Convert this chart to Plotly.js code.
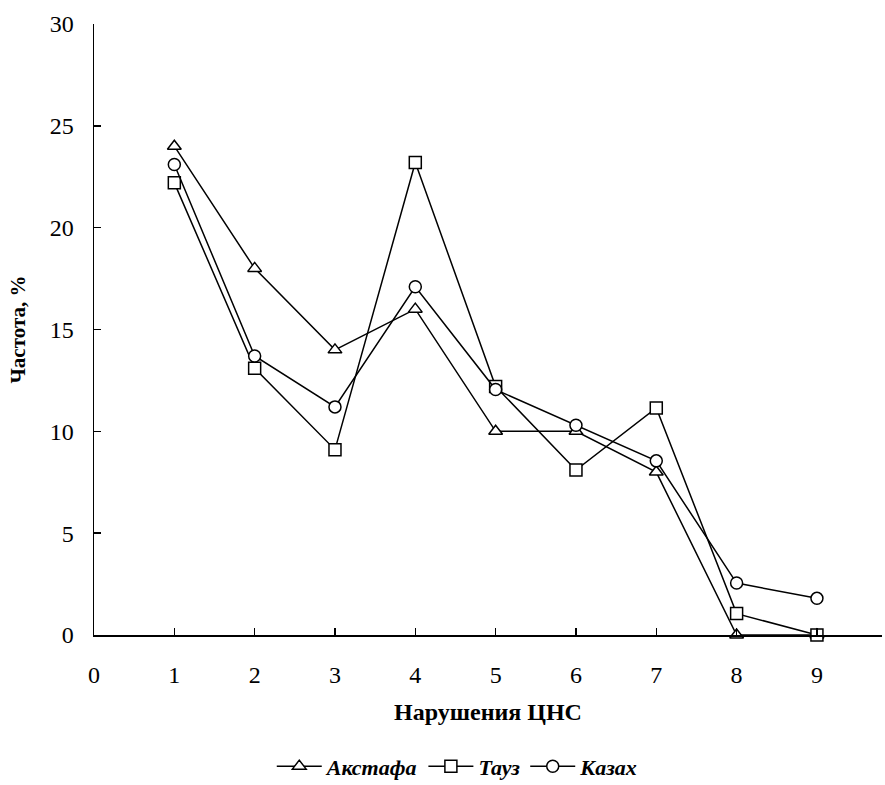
<!DOCTYPE html>
<html>
<head>
<meta charset="utf-8">
<script src="https://cdn.plot.ly/plotly-3.0.1.min.js"></script>
<style>html,body{margin:0;padding:0;background:#fff;}#chart{width:885px;height:785px;}</style>
</head>
<body>
<div id="chart"></div>
<script>
const categories = [1, 2, 3, 4, 5, 6, 7, 8, 9];
const seriesNames = ['Акстафа', 'Тауз', 'Казах'];
const aqstafa = [24, 18, 14, 16, 10, 10, 8, 0, 0];
const tauz = [22.2, 13.1, 9.1, 23.2, 12.2, 8.1, 11.15, 1.05, 0];
const qazax = [23.1, 13.7, 11.2, 17.1, 12.05, 10.3, 8.55, 2.55, 1.8];
const xTicks = [0, 1, 2, 3, 4, 5, 6, 7, 8, 9];
const yTicks = [0, 5, 10, 15, 20, 25, 30];
const xTitle = 'Нарушения ЦНС';
const yTitle = 'Частота, %';

const symbols = ['triangle-up', 'square', 'circle'];
const values = [aqstafa, tauz, qazax];
const traces = values.map((v, i) => ({
  x: categories, y: v, name: seriesNames[i], type: 'scatter', mode: 'lines+markers',
  cliponaxis: false,
  line: {color: '#000', width: 1.5},
  marker: {symbol: symbols[i], size: 12, color: '#fff', line: {color: '#000', width: 1.5}}
}));

const serif = 'Liberation Serif';
const layout = {
  width: 885, height: 785,
  margin: {l: 94, r: 3, t: 24, b: 150, autoexpand: false},
  paper_bgcolor: '#fff', plot_bgcolor: '#fff',
  showlegend: true,
  font: {family: serif, color: '#000'},
  xaxis: {
    range: [0, 9.81], tickvals: xTicks, ticktext: xTicks.map(String),
    ticks: 'inside', ticklen: 7, tickwidth: 1.5, tickcolor: '#000',
    showline: true, linecolor: '#000', linewidth: 1.5, showgrid: false, zeroline: false,
    tickfont: {family: serif, size: 24, color: '#000'}, ticklabelstandoff: 18,
    title: {text: xTitle, font: {family: serif, size: 24, weight: 'bold', color: '#000'}, standoff: 16},
    automargin: false
  },
  yaxis: {
    range: [0, 30], tickvals: yTicks, ticktext: yTicks.map(String),
    ticks: 'inside', ticklen: 7, tickwidth: 1.5, tickcolor: '#000',
    showline: true, linecolor: '#000', linewidth: 1.5, showgrid: false, zeroline: false,
    tickfont: {family: serif, size: 24, color: '#000'}, ticklabelstandoff: 14,
    title: {text: yTitle, font: {family: serif, size: 21, weight: 'bold', color: '#000'}, standoff: 18},
    automargin: false
  },
  legend: {
    orientation: 'h', x: 0.461, xanchor: 'center', y: -0.215, yanchor: 'middle',
    font: {family: serif, size: 22, weight: 'bold', style: 'italic', color: '#000'},
    itemwidth: 45, bgcolor: 'rgba(0,0,0,0)', traceorder: 'normal'
  }
};
Plotly.newPlot('chart', traces, layout, {displayModeBar: false, staticPlot: true});
</script>
</body>
</html>
